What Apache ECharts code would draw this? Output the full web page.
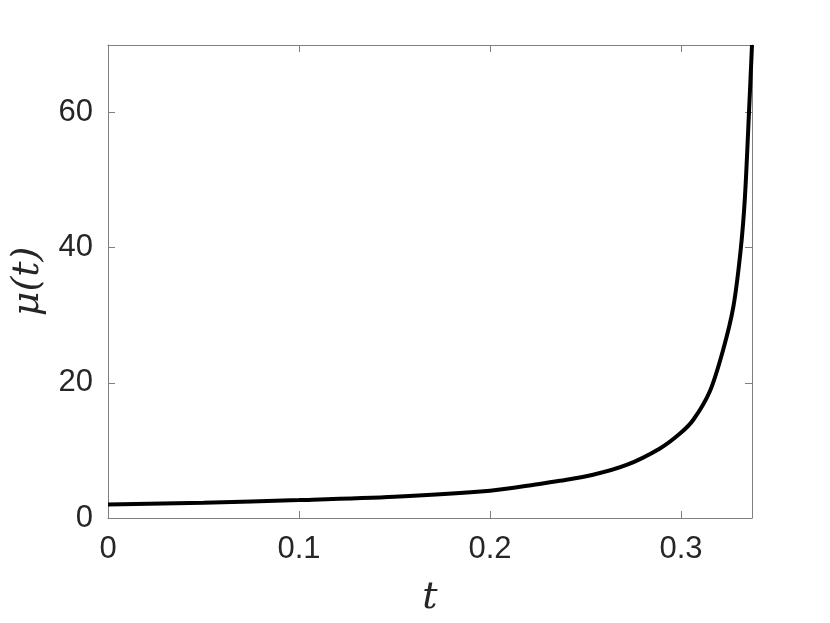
<!DOCTYPE html>
<html>
<head>
<meta charset="utf-8">
<script src="https://cdn.jsdelivr.net/npm/echarts@6/dist/echarts.min.js"></script>
<style>html,body{margin:0;padding:0;background:#fff}#c{width:830px;height:623px}</style>
</head>
<body>
<div id="c"></div>
<script>
const tValues = [0, 0.05, 0.1, 0.15, 0.2, 0.225, 0.2366, 0.254, 0.2715, 0.289, 0.2995, 0.3064, 0.3152, 0.3221, 0.3274, 0.3312, 0.3335, 0.3357, 0.3372];
const muValues = [2.0, 2.27, 2.65, 3.15, 4.05, 5.0, 5.5, 6.4, 7.85, 10.3, 12.5, 14.5, 18.8, 24.9, 31.2, 39.5, 47.5, 60.5, 70];
const xTicks = [0, 0.1, 0.2, 0.3];
const yTicks = [0, 20, 40, 60];
const xMax = 0.3372, yMax = 70;

const axisCol = '#7f7f7f', textCol = '#262626';
const labelFont = {fontFamily: 'Liberation Sans, Arial, sans-serif', fontSize: 31, color: textCol};
const nameFont = {fontFamily: 'DejaVu Serif, serif', fontStyle: 'italic', fontSize: 38, color: textCol};

function baseAxis(extra) {
  return Object.assign({
    type: 'value',
    axisLine: {show: true, onZero: false, lineStyle: {color: axisCol, width: 1}},
    axisTick: {show: true, inside: true, length: 7, lineStyle: {color: axisCol, width: 1}},
    splitLine: {show: false}
  }, extra);
}

const chart = echarts.init(document.getElementById('c'));
chart.setOption({
  animation: false,
  backgroundColor: '#fff',
  grid: {left: 108, right: 78, top: 45, bottom: 105, containLabel: false},
  xAxis: [
    baseAxis({position: 'bottom', min: 0, max: xMax, name: 't', nameLocation: 'middle', nameGap: 61, nameTextStyle: nameFont,
      axisTick: {show: true, inside: true, length: 7, customValues: xTicks, lineStyle: {color: axisCol}},
      axisLabel: Object.assign({margin: 16, customValues: xTicks, formatter: v => String(+v.toFixed(1))}, labelFont)}),
    baseAxis({position: 'top', min: 0, max: xMax,
      axisTick: {show: true, inside: true, length: 7, customValues: xTicks, lineStyle: {color: axisCol}},
      axisLabel: {show: false}})
  ],
  yAxis: [
    baseAxis({position: 'left', min: 0, max: yMax, name: 'μ(t)', nameLocation: 'middle', nameGap: 45, nameTextStyle: nameFont,
      axisTick: {show: true, inside: true, length: 7, customValues: yTicks, lineStyle: {color: axisCol}},
      axisLabel: Object.assign({margin: 15, customValues: yTicks}, labelFont)}),
    baseAxis({position: 'right', min: 0, max: yMax,
      axisTick: {show: true, inside: true, length: 7, customValues: yTicks, lineStyle: {color: axisCol}},
      axisLabel: {show: false}})
  ],
  series: [{
    type: 'line',
    xAxisIndex: 0, yAxisIndex: 0,
    data: tValues.map((t, i) => [t, muValues[i]]),
    showSymbol: false,
    smooth: 0.3,
    clip: true,
    lineStyle: {color: '#000', width: 4}
  }]
});
</script>
</body>
</html>
